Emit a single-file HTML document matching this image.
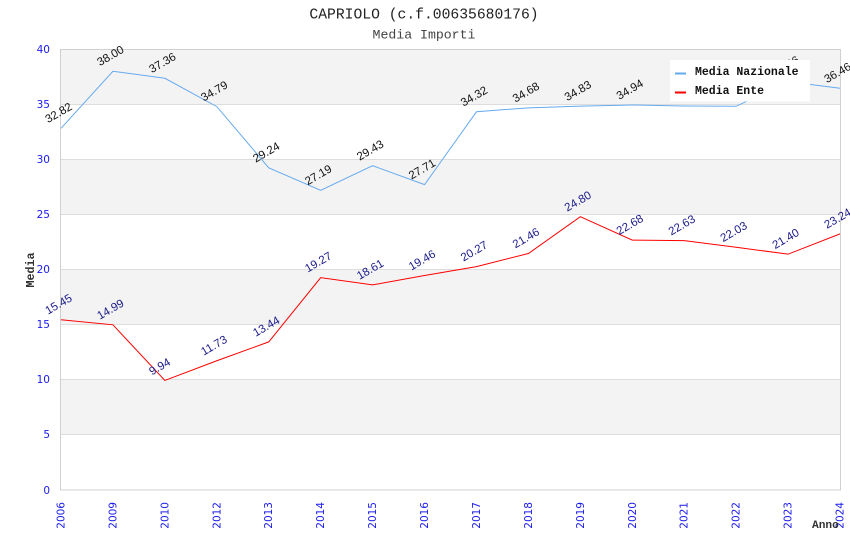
<!DOCTYPE html>
<html><head><meta charset="utf-8"><style>
html,body{margin:0;padding:0;background:#fff;}
svg{display:block;}
.t{font-family:"Liberation Sans",sans-serif;font-size:11.5px;}
.tk{font-family:"DejaVu Sans",sans-serif;font-size:10.5px;fill:#1a1aee;}
.m{font-family:"Liberation Mono",monospace;}
</style></head><body>
<svg width="850" height="550" viewBox="0 0 850 550" xmlns="http://www.w3.org/2000/svg">
<rect width="850" height="550" fill="#fff"/>
<text x="424" y="18.5" text-anchor="middle" class="m" style="font-size:14.7px;fill:#222">CAPRIOLO (c.f.00635680176)</text>
<text x="424" y="38.5" text-anchor="middle" class="m" style="font-size:13.2px;fill:#444">Media Importi</text>
<!-- bands -->
<g fill="#f3f3f3">
<rect x="61" y="49.2" width="779" height="55.1"/>
<rect x="61" y="159.4" width="779" height="55.1"/>
<rect x="61" y="269.6" width="779" height="55.1"/>
<rect x="61" y="379.8" width="779" height="55.1"/>
</g>
<g stroke="#dddddd" stroke-width="1">
<line x1="61" x2="840" y1="104.5" y2="104.5"/>
<line x1="61" x2="840" y1="159.5" y2="159.5"/>
<line x1="61" x2="840" y1="214.5" y2="214.5"/>
<line x1="61" x2="840" y1="269.5" y2="269.5"/>
<line x1="61" x2="840" y1="324.5" y2="324.5"/>
<line x1="61" x2="840" y1="379.5" y2="379.5"/>
<line x1="61" x2="840" y1="434.5" y2="434.5"/>
</g>
<rect x="60.5" y="49.5" width="780" height="440.5" fill="none" stroke="#d0d0d0" stroke-width="1"/>
<!-- y ticks -->
<g class="tk" text-anchor="end">
<text x="50" y="53">40</text>
<text x="50" y="108">35</text>
<text x="50" y="163">30</text>
<text x="50" y="218">25</text>
<text x="50" y="273">20</text>
<text x="50" y="328">15</text>
<text x="50" y="383">10</text>
<text x="50" y="438">5</text>
<text x="50" y="494">0</text>
</g>
<!-- x ticks -->
<g class="tk" text-anchor="end">
<text transform="translate(64.5,502) rotate(-90)">2006</text>
<text transform="translate(116.4,502) rotate(-90)">2009</text>
<text transform="translate(168.4,502) rotate(-90)">2010</text>
<text transform="translate(220.3,502) rotate(-90)">2012</text>
<text transform="translate(272.2,502) rotate(-90)">2013</text>
<text transform="translate(324.2,502) rotate(-90)">2014</text>
<text transform="translate(376.1,502) rotate(-90)">2015</text>
<text transform="translate(428,502) rotate(-90)">2016</text>
<text transform="translate(480,502) rotate(-90)">2017</text>
<text transform="translate(531.9,502) rotate(-90)">2018</text>
<text transform="translate(583.8,502) rotate(-90)">2019</text>
<text transform="translate(635.8,502) rotate(-90)">2020</text>
<text transform="translate(687.7,502) rotate(-90)">2021</text>
<text transform="translate(739.6,502) rotate(-90)">2022</text>
<text transform="translate(791.6,502) rotate(-90)">2023</text>
<text transform="translate(843.5,502) rotate(-90)">2024</text>
</g>
<text transform="translate(34,270) rotate(-90)" text-anchor="middle" class="m" style="font-size:11.7px;font-weight:bold;fill:#333">Media</text>
<text x="812" y="528" class="m" style="font-size:11.2px;font-weight:bold;fill:#333">Anno</text>
<!-- series -->
<polyline fill="none" stroke="#66aaee" stroke-width="1" points="61,128.32 112.93,71.24 164.87,78.29 216.8,106.61 268.73,167.78 320.67,190.37 372.6,165.68 424.53,184.64 476.47,111.79 528.4,107.83 580.33,106.17 632.27,104.96 684.2,105.95 736.13,106.28 788.07,81.6 840,88.21"/>
<polyline fill="none" stroke="#ff0000" stroke-width="1" points="61,319.74 112.93,324.81 164.87,380.46 216.8,360.74 268.73,341.89 320.67,277.64 372.6,284.92 424.53,275.55 476.47,266.62 528.4,253.51 580.33,216.7 632.27,240.07 684.2,240.62 736.13,247.23 788.07,254.17 840,233.9"/>
<g class="t" fill="#111">
<text transform="translate(48,123.3) rotate(-30)">32.82</text>
<text transform="translate(99.9,66.2) rotate(-30)">38.00</text>
<text transform="translate(151.9,73.3) rotate(-30)">37.36</text>
<text transform="translate(203.8,101.6) rotate(-30)">34.79</text>
<text transform="translate(255.7,162.8) rotate(-30)">29.24</text>
<text transform="translate(307.7,185.4) rotate(-30)">27.19</text>
<text transform="translate(359.6,160.7) rotate(-30)">29.43</text>
<text transform="translate(411.5,179.6) rotate(-30)">27.71</text>
<text transform="translate(463.5,106.8) rotate(-30)">34.32</text>
<text transform="translate(515.4,102.8) rotate(-30)">34.68</text>
<text transform="translate(567.3,101.2) rotate(-30)">34.83</text>
<text transform="translate(619.3,100) rotate(-30)">34.94</text>
<text transform="translate(723.1,101.3) rotate(-30)">34.82</text>
<text transform="translate(775.1,76.6) rotate(-30)">37.06</text>
<text transform="translate(827,83.2) rotate(-30)">36.46</text>
</g>
<g class="t" fill="#1a1a8a">
<text transform="translate(48,314.7) rotate(-30)">15.45</text>
<text transform="translate(99.9,319.8) rotate(-30)">14.99</text>
<text transform="translate(151.9,375.5) rotate(-30)">9.94</text>
<text transform="translate(203.8,355.7) rotate(-30)">11.73</text>
<text transform="translate(255.7,336.9) rotate(-30)">13.44</text>
<text transform="translate(307.7,272.6) rotate(-30)">19.27</text>
<text transform="translate(359.6,279.9) rotate(-30)">18.61</text>
<text transform="translate(411.5,270.6) rotate(-30)">19.46</text>
<text transform="translate(463.5,261.6) rotate(-30)">20.27</text>
<text transform="translate(515.4,248.5) rotate(-30)">21.46</text>
<text transform="translate(567.3,211.7) rotate(-30)">24.80</text>
<text transform="translate(619.3,235.1) rotate(-30)">22.68</text>
<text transform="translate(671.2,235.6) rotate(-30)">22.63</text>
<text transform="translate(723.1,242.2) rotate(-30)">22.03</text>
<text transform="translate(775.1,249.2) rotate(-30)">21.40</text>
<text transform="translate(827,228.9) rotate(-30)">23.24</text>
</g>
<!-- legend -->
<rect x="670" y="60" width="140" height="41.5" fill="#fff"/>
<line x1="675" x2="686" y1="73.5" y2="73.5" stroke="#66aaee" stroke-width="2"/>
<line x1="675" x2="686" y1="92.5" y2="92.5" stroke="#ff0000" stroke-width="2"/>
<text x="695" y="75" class="m" style="font-size:11.5px;font-weight:bold;fill:#111">Media Nazionale</text>
<text x="695" y="94" class="m" style="font-size:11.5px;font-weight:bold;fill:#111">Media Ente</text>
</svg>
</body></html>
